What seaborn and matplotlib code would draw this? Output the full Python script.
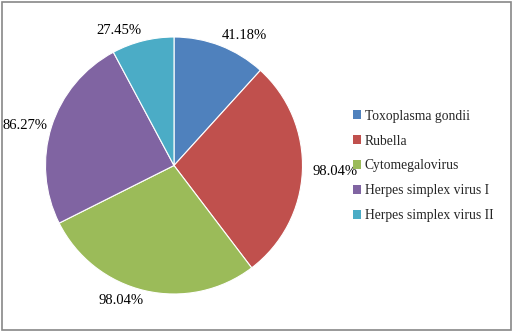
import matplotlib
matplotlib.use("Agg")
import matplotlib.pyplot as plt
import seaborn as sns
from matplotlib.patches import Rectangle, Patch

categories = ["Toxoplasma gondii", "Rubella", "Cytomegalovirus",
              "Herpes simplex virus I", "Herpes simplex virus II"]
values = [41.18, 98.04, 98.04, 86.27, 27.45]
value_labels = ["41.18%", "98.04%", "98.04%", "86.27%", "27.45%"]

sns.set_style("white")
plt.rcParams["font.family"] = ["Liberation Serif", "DejaVu Serif"]
colors = sns.color_palette(["#4F81BD", "#C0504D", "#9BBB59", "#8064A2", "#4BACC6"])

W, H = 513, 332
fig = plt.figure(figsize=(W / 100, H / 100), dpi=100)
cx, cy, r = 174, 166.5, 128.5
ax = fig.add_axes([(cx - r) / W, (cy - r) / H, 2 * r / W, 2 * r / H])

label_dist = 1.03
wedges, texts = ax.pie(values, labels=value_labels, colors=colors, startangle=90,
                       counterclock=False, labeldistance=label_dist,
                       wedgeprops=dict(linewidth=0.8, edgecolor="white"),
                       textprops=dict(fontsize=10.5, color="black"))
for t in texts:
    x, y = t.get_position()
    yn = y / label_dist
    if yn > 0.5:
        t.set_va("bottom")
    elif yn < -0.5:
        t.set_va("top")
    else:
        t.set_va("center")
    if abs(yn) <= 0.5 and x > 0:
        t.set_position((x * 1.05, y))
ax.set_xlim(-1, 1)
ax.set_ylim(-1, 1)
ax.set_aspect("equal")

handles = [Patch(facecolor=c, edgecolor="none") for c in colors]
fig.legend(handles, categories, loc="center left", bbox_to_anchor=(341 / W, 0.5),
           frameon=False, fontsize=9.8, handlelength=0.6, handleheight=0.6,
           handletextpad=0.25, labelspacing=0.88)

fig.patches.append(Rectangle((2 / W, 2 / H), (W - 4) / W, (H - 4) / H,
                             transform=fig.transFigure, fill=False,
                             edgecolor="#888888", linewidth=1.2))
fig.savefig("out.png", dpi=100)
